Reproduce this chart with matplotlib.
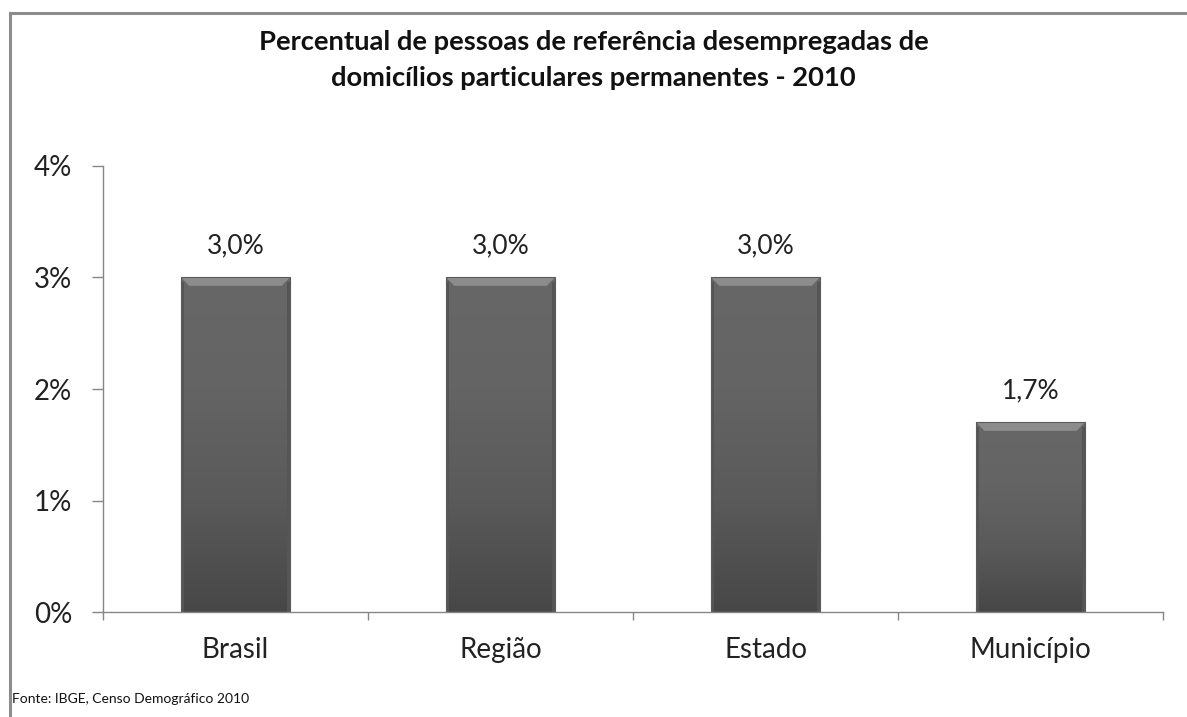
import matplotlib.pyplot as plt
import numpy as np
from matplotlib.lines import Line2D
from matplotlib.patches import Polygon
from matplotlib.colors import LinearSegmentedColormap

plt.rcParams['font.family'] = ['Lato', 'DejaVu Sans']

# dados
categorias = ['Brasil', 'Região', 'Estado', 'Município']
valores = [3.0, 3.0, 3.0, 1.7]  # percentual
rotulos = ['3,0%', '3,0%', '3,0%', '1,7%']
y_ticks = [0, 1, 2, 3, 4]
y_labels = ['0%', '1%', '2%', '3%', '4%']

fig = plt.figure(figsize=(11.87, 7.17), dpi=100)
ax = fig.add_axes([0.0868, 0.1464, 0.8930, 0.6221])

x = np.arange(len(categorias))
bars = ax.bar(x, valores, width=0.41, color='#5e5e5e', zorder=2)

cinza = LinearSegmentedColormap.from_list('cinza', ['#474747', '#5a5a5a', '#646464', '#676767'])
grad = np.linspace(0, 1, 256).reshape(-1, 1)
for b in bars:
    x0, y0 = b.get_x(), b.get_y()
    w, h = b.get_width(), b.get_height()
    im = ax.imshow(grad, extent=[x0, x0 + w, y0, y0 + h], origin='lower',
                   cmap=cinza, aspect='auto', zorder=3)
    im.set_clip_path(b)
    bw = w * 0.075
    bh = 0.075
    top = y0 + h
    # chanfro superior
    ax.add_patch(Polygon([[x0, top], [x0 + w, top], [x0 + w - bw, top - bh], [x0 + bw, top - bh]],
                         closed=True, color='#8c8c8c', lw=0, zorder=4))
    # laterais
    sw = w * 0.03
    ax.add_patch(plt.Rectangle((x0, y0), sw, h - bh / 2, color='#555555', lw=0, zorder=4))
    ax.add_patch(plt.Rectangle((x0 + w - sw, y0), sw, h - bh / 2, color='#555555', lw=0, zorder=4))
    ax.add_patch(plt.Rectangle((x0, y0), w, h, fill=False, ec='#5a5a5a', lw=0.8, zorder=5))

for xi, v, t in zip(x, valores, rotulos):
    ax.annotate(t, (xi, v), xytext=(0, 14), textcoords='offset points',
                ha='center', va='bottom', fontsize=19, color='#222222')

ax.set_xlim(-0.5, len(categorias) - 0.5)
ax.set_ylim(0, 4)
ax.set_yticks(y_ticks)
ax.set_yticklabels(y_labels, fontsize=20, color='#222222')
ax.set_xticks(np.arange(len(categorias) + 1) - 0.5)
ax.set_xticklabels([])
ax.set_xticks(x, minor=True)
ax.set_xticklabels(categorias, minor=True, fontsize=20, color='#222222')

ax.tick_params(axis='y', length=8, width=1, color='#868686', pad=14)
ax.tick_params(axis='x', which='major', length=6, width=1, color='#868686')
ax.tick_params(axis='x', which='minor', length=0, pad=18)

for s in ['top', 'right']:
    ax.spines[s].set_visible(False)
for s in ['left', 'bottom']:
    ax.spines[s].set_color('#868686')
    ax.spines[s].set_linewidth(1)
    ax.spines[s].set_zorder(6)

fig.suptitle('Percentual de pessoas de referência desempregadas de\ndomicílios particulares permanentes - 2010',
             x=0.5, y=0.958, fontsize=19.7, fontweight='bold', color='#111111', linespacing=1.6)

fig.text(0.010, 0.019, 'Fonte: IBGE, Censo Demográfico 2010', fontsize=10, color='#111111')

# moldura (somente topo e esquerda visíveis)
fig.add_artist(Line2D([0.0088, 1.0], [0.9819, 0.9819], transform=fig.transFigure, color='#8c8c8c', lw=2.2))
fig.add_artist(Line2D([0.0088, 0.0088], [0.0, 0.9819], transform=fig.transFigure, color='#8c8c8c', lw=2.2))

fig.savefig('out.png', dpi=100)
